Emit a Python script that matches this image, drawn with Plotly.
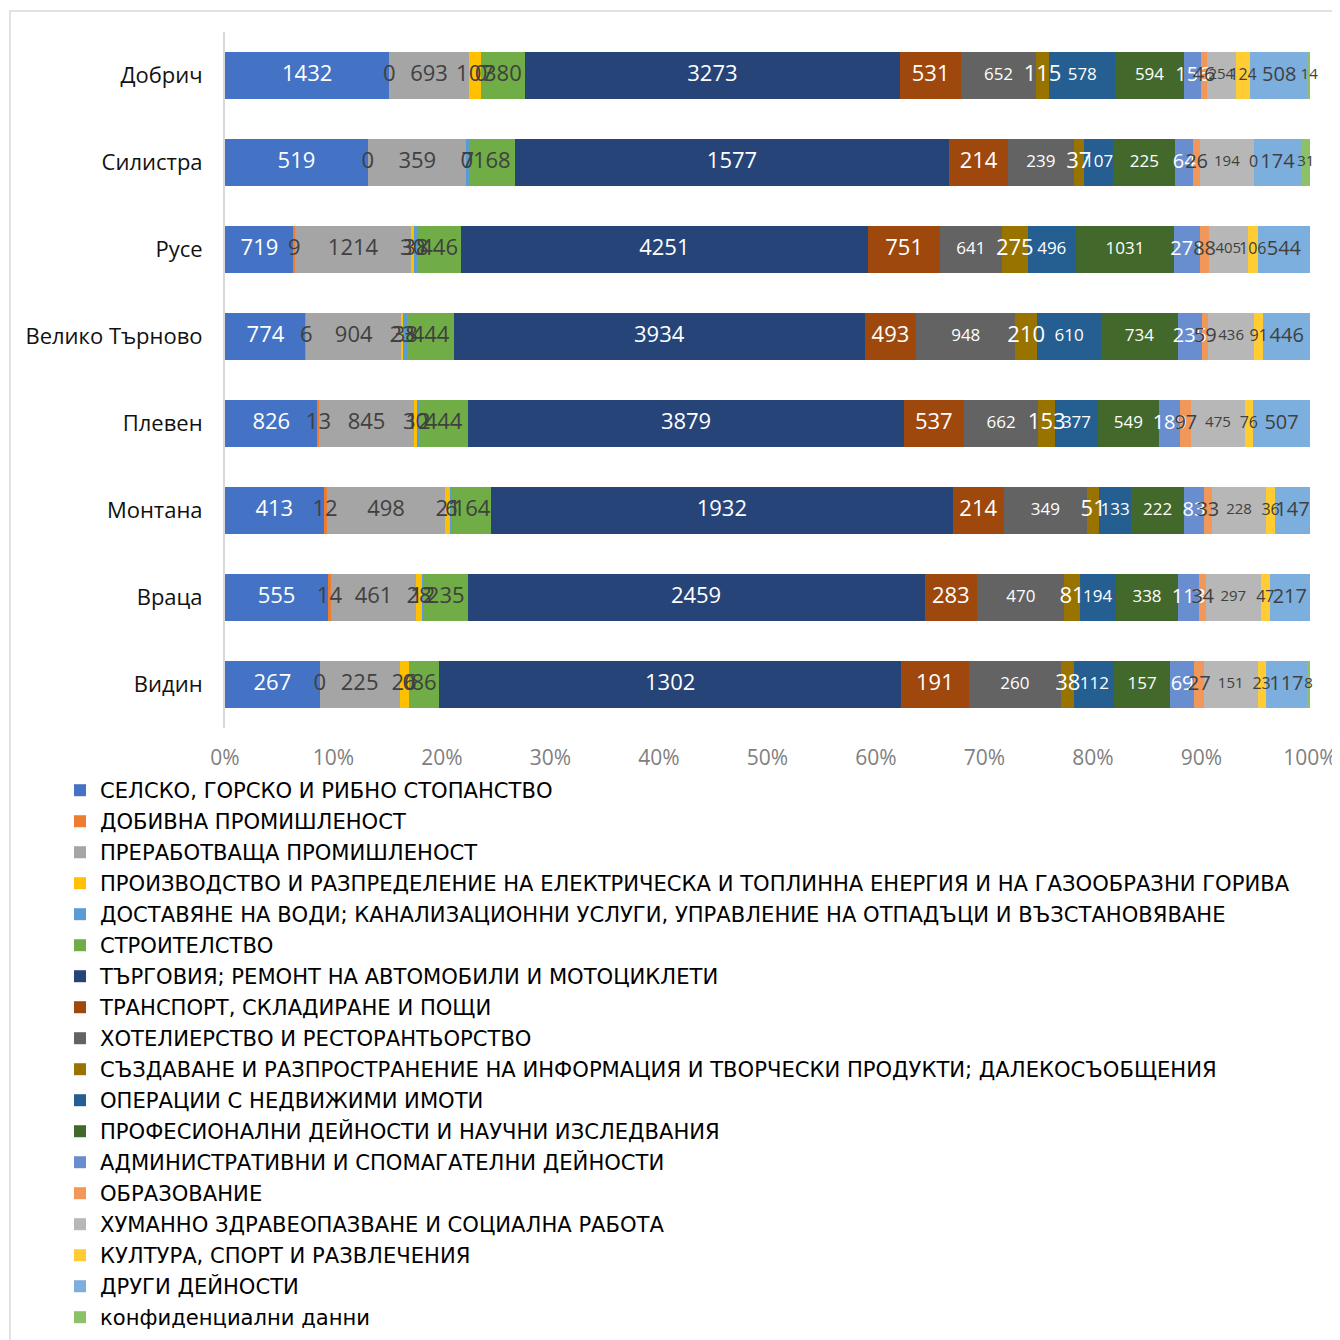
import numpy as np
import plotly.graph_objects as go

categories = ["Добрич", "Силистра", "Русе", "Велико Търново", "Плевен", "Монтана", "Враца", "Видин"]

agri = [1432, 519, 719, 774, 826, 413, 555, 267]
mining = [0, 0, 9, 6, 13, 12, 14, 0]
manuf = [693, 359, 1214, 904, 845, 498, 461, 225]
energy = [107, 0, 30, 23, 30, 21, 28, 26]
water = [0, 7, 38, 38, 12, 6, 12, 0]
constr = [380, 168, 446, 444, 444, 164, 235, 86]
trade = [3273, 1577, 4251, 3934, 3879, 1932, 2459, 1302]
transport = [531, 214, 751, 493, 537, 214, 283, 191]
hotels = [652, 239, 641, 948, 662, 349, 470, 260]
info = [115, 37, 275, 210, 153, 51, 81, 38]
realestate = [578, 107, 496, 610, 377, 133, 194, 112]
prof = [594, 225, 1031, 734, 549, 222, 338, 157]
admin = [156, 64, 271, 235, 189, 83, 113, 69]
edu = [46, 26, 88, 59, 97, 33, 34, 27]
health = [254, 194, 405, 436, 475, 228, 297, 151]
culture = [124, 0, 106, 91, 76, 36, 47, 23]
other = [508, 174, 544, 446, 507, 147, 217, 117]
conf = [14, 31, None, None, None, None, None, 8]

series_names = [
    "СЕЛСКО, ГОРСКО И РИБНО СТОПАНСТВО",
    "ДОБИВНА ПРОМИШЛЕНОСТ",
    "ПРЕРАБОТВАЩА ПРОМИШЛЕНОСТ",
    "ПРОИЗВОДСТВО И РАЗПРЕДЕЛЕНИЕ НА ЕЛЕКТРИЧЕСКА И ТОПЛИННА ЕНЕРГИЯ И НА ГАЗООБРАЗНИ ГОРИВА",
    "ДОСТАВЯНЕ НА ВОДИ; КАНАЛИЗАЦИОННИ УСЛУГИ, УПРАВЛЕНИЕ НА ОТПАДЪЦИ И ВЪЗСТАНОВЯВАНЕ",
    "СТРОИТЕЛСТВО",
    "ТЪРГОВИЯ; РЕМОНТ НА АВТОМОБИЛИ И МОТОЦИКЛЕТИ",
    "ТРАНСПОРТ, СКЛАДИРАНЕ И ПОЩИ",
    "ХОТЕЛИЕРСТВО И РЕСТОРАНТЬОРСТВО",
    "СЪЗДАВАНЕ И РАЗПРОСТРАНЕНИЕ НА ИНФОРМАЦИЯ И ТВОРЧЕСКИ ПРОДУКТИ; ДАЛЕКОСЪОБЩЕНИЯ",
    "ОПЕРАЦИИ С НЕДВИЖИМИ ИМОТИ",
    "ПРОФЕСИОНАЛНИ ДЕЙНОСТИ И НАУЧНИ ИЗСЛЕДВАНИЯ",
    "АДМИНИСТРАТИВНИ И СПОМАГАТЕЛНИ ДЕЙНОСТИ",
    "ОБРАЗОВАНИЕ",
    "ХУМАННО ЗДРАВЕОПАЗВАНЕ И СОЦИАЛНА РАБОТА",
    "КУЛТУРА, СПОРТ И РАЗВЛЕЧЕНИЯ",
    "ДРУГИ ДЕЙНОСТИ",
    "конфиденциални данни",
]
series_values = [agri, mining, manuf, energy, water, constr, trade, transport, hotels,
                 info, realestate, prof, admin, edu, health, culture, other, conf]
colors = ["#4472C4", "#ED7D31", "#A5A5A5", "#FFC000", "#5B9BD5", "#70AD47", "#264478",
          "#9E480E", "#636363", "#997300", "#255E91", "#43682B", "#698ED0", "#F1975A",
          "#B7B7B7", "#FFCD33", "#7CAFDD", "#8CC168"]
label_colors = ["white", "#404040", "#404040", "#404040", "#404040", "#404040", "white",
                "white", "white", "white", "white", "white", "white", "#404040",
                "#404040", "#404040", "#404040", "#404040"]
label_sizes = [22, 22, 22, 22, 22, 22, 22, 22, 17, 22, 17, 17, 20, 20, 15, 16, 20, 15]

FONT = "'Open Sans', 'Noto Sans', sans-serif"
LEG_FONT = "'DejaVu Sans', Verdana, sans-serif"
LEG_SIZE = 21.1
ROW_PX = 31

fig = go.Figure()
for k, (name, vals, col) in enumerate(zip(series_names, series_values, colors)):
    fig.add_trace(go.Bar(
        y=categories, x=vals, orientation="h", name=name, legendgroup=f"g{k}",
        marker=dict(color=col, line=dict(width=0)),
        hoverinfo="x+name",
    ))

# data labels (including zero values) centred on each segment
mat = np.array([[np.nan if v is None else v for v in s] for s in series_values], dtype=float)
filled = np.nan_to_num(mat)
totals = filled.sum(axis=0)
cum_before = np.cumsum(filled, axis=0) - filled
mids = (cum_before + filled / 2) / totals

for i, vals in enumerate(series_values):
    xs, ys, ts = [], [], []
    for j, v in enumerate(vals):
        if v is None:
            continue
        xs.append(mids[i, j])
        ys.append(categories[j])
        ts.append(str(v))
    fig.add_trace(go.Scatter(
        x=xs, y=ys, text=ts, mode="text", showlegend=False, hoverinfo="skip",
        cliponaxis=False,
        textfont=dict(family=FONT, size=label_sizes[i], color=label_colors[i]),
    ))

# page body has an 8px margin; work in page pixels and subtract it
OFF = 8
W, H = 1340 - OFF, 1340 - OFF
L, R, T, B = 225 - OFF, 30, 32 - OFF, 612
pw, ph = W - L - R, H - T - B

fig.update_layout(
    width=W, height=H,
    barmode="stack", barnorm="fraction", bargap=0.45,
    paper_bgcolor="white", plot_bgcolor="white",
    margin=dict(l=L, r=R, t=T, b=B, autoexpand=False),
    font=dict(family=FONT, color="#1a1a1a"),
    xaxis=dict(range=[0, 1], tickformat=".0%", dtick=0.1, showgrid=False, zeroline=False,
               showline=False, ticks="", tickfont=dict(size=21, color="#7f7f7f"),
               ticklabelstandoff=15, fixedrange=True),
    yaxis=dict(range=[7.5, -0.5], type="category", showgrid=False, zeroline=False,
               showline=True, linecolor="#d9d9d9", linewidth=2, ticks="",
               tickfont=dict(size=22, color="#111111"), ticklabelstandoff=16,
               fixedrange=True),
    legend=dict(
        xref="container", yref="container", x=(60 - OFF) / W, y=1 - (770 - OFF) / H,
        xanchor="left", yanchor="top", orientation="v", traceorder="grouped",
        tracegroupgap=max(0.0, ROW_PX - (LEG_SIZE * 1.3 + 3)),
        font=dict(size=LEG_SIZE, color="#000000", family=LEG_FONT), bgcolor="rgba(0,0,0,0)",
        itemclick=False, itemdoubleclick=False,
    ),
    shapes=[dict(type="rect", xref="paper", yref="paper",
                 x0=(10 - OFF - L) / pw, x1=(1346 - OFF - L) / pw,
                 y0=(H - B - (1346 - OFF)) / ph, y1=(H - B - (11 - OFF)) / ph,
                 line=dict(color="#d9d9d9", width=1.5), fillcolor="rgba(0,0,0,0)",
                 layer="below")],
    showlegend=True,
)

fig.write_html("out.html")
